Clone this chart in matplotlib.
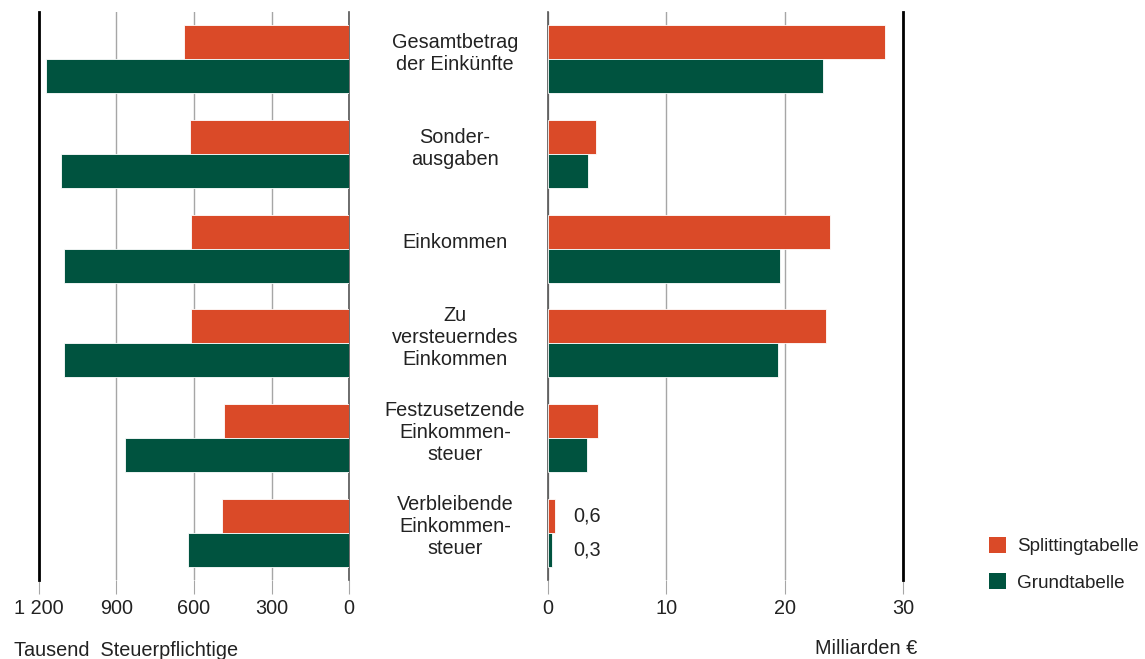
import matplotlib.pyplot as plt
from matplotlib.patches import Patch

plt.rcParams['font.family'] = ['Liberation Sans', 'DejaVu Sans']

categories = ['Gesamtbetrag\nder Einkünfte', 'Sonder-\nausgaben', 'Einkommen',
              'Zu\nversteuerndes\nEinkommen', 'Festzusetzende\nEinkommen-\nsteuer',
              'Verbleibende\nEinkommen-\nsteuer']
# Tausend Steuerpflichtige
count_split = [639, 616, 612, 612, 484, 492]
count_grund = [1173, 1115, 1103, 1103, 867, 623]
# Milliarden Euro
amount_split = [28.5, 4.05, 23.8, 23.5, 4.2, 0.6]
amount_grund = [23.2, 3.4, 19.6, 19.4, 3.3, 0.3]
left_ticks = [0, 300, 600, 900, 1200]
left_ticklabels = ['0', '300', '600', '900', '1 200']
right_ticks = [0, 10, 20, 30]

c_split = '#da4a28'
c_grund = '#00533f'
grid_c = '#a6a6a6'
txt_c = '#222222'
fs = 14.3

fig = plt.figure(figsize=(11.45, 6.59), dpi=100)
ax_l = fig.add_axes([39 / 1145, 1 - 580 / 659, 310 / 1145, 568 / 659])
ax_r = fig.add_axes([548 / 1145, 1 - 580 / 659, 355 / 1145, 568 / 659])

y = list(range(len(categories)))
h = 0.36
y_split = [v - h / 2 for v in y]
y_grund = [v + h / 2 for v in y]

for ax, split, grund in [(ax_l, count_split, count_grund), (ax_r, amount_split, amount_grund)]:
    ax.barh(y_split, split, height=h, color=c_split, edgecolor='white', linewidth=0.6, zorder=3)
    ax.barh(y_grund, grund, height=h, color=c_grund, edgecolor='white', linewidth=0.6, zorder=3)
    ax.set_ylim(len(categories) - 0.5, -0.5)
    ax.set_yticks([])
    ax.grid(axis='x', color=grid_c, linewidth=1, zorder=0)
    ax.tick_params(axis='x', length=10, color=grid_c, labelsize=fs, pad=4, labelcolor=txt_c)
    ax.spines['top'].set_visible(False)
    ax.spines['bottom'].set_visible(False)

ax_l.set_xlim(1200, 0)
ax_l.set_xticks(left_ticks)
ax_l.set_xticklabels(left_ticklabels)
ax_l.spines['left'].set_linewidth(2)
ax_l.spines['left'].set_color('black')
ax_l.spines['right'].set_color('#555555')
ax_l.spines['right'].set_linewidth(1.2)

ax_r.set_xlim(0, 30)
ax_r.set_xticks(right_ticks)
ax_r.spines['right'].set_linewidth(2)
ax_r.spines['right'].set_color('black')
ax_r.spines['left'].set_color('#555555')
ax_r.spines['left'].set_linewidth(1.2)

for i, lab in enumerate(categories):
    ax_r.text(-7.86, i - 0.06, lab, ha='center', va='center', fontsize=fs,
              color=txt_c, linespacing=1.2, clip_on=False)

ax_r.text(2.1, y_split[5], '0,6', ha='left', va='center', fontsize=fs, color=txt_c)
ax_r.text(2.1, y_grund[5], '0,3', ha='left', va='center', fontsize=fs, color=txt_c)

fig.text(14 / 1145, 1 - 651 / 659, 'Tausend  Steuerpflichtige', ha='left', va='center',
         fontsize=fs, color=txt_c)
fig.text(917 / 1145, 1 - 648 / 659, 'Milliarden €', ha='right', va='center',
         fontsize=fs, color=txt_c)

handles = [Patch(facecolor=c_split, label='Splittingtabelle'),
           Patch(facecolor=c_grund, label='Grundtabelle')]
fig.legend(handles=handles, loc='upper left', bbox_to_anchor=(972 / 1145, 1 - 520 / 659),
           frameon=False, fontsize=13.6, handlelength=0.9, handleheight=0.9,
           labelspacing=0.95, handletextpad=0.6, labelcolor=txt_c)

fig.savefig('out.png', dpi=100)
